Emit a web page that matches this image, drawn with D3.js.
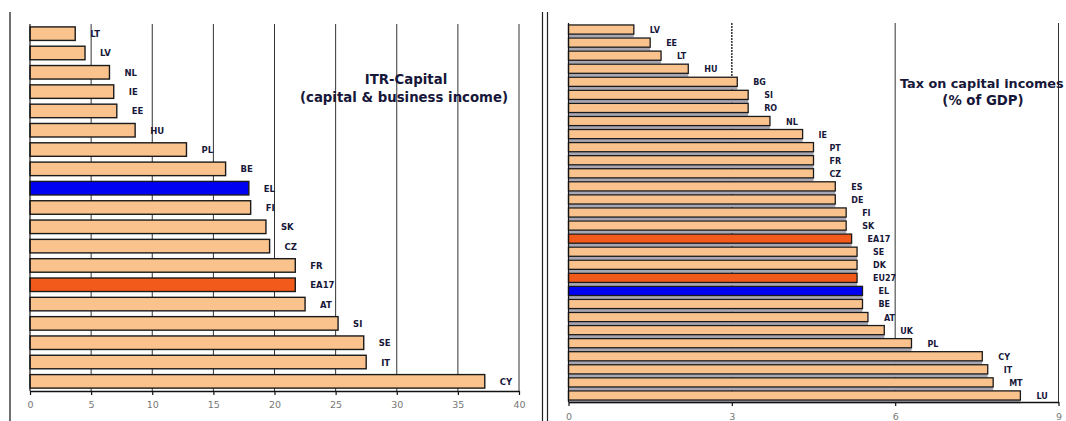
<!DOCTYPE html>
<html>
<head>
<meta charset="utf-8">
<script src="https://cdn.jsdelivr.net/npm/d3@7"></script>
<style>
  html, body { margin: 0; padding: 0; background: #fff; }
  svg { display: block; }
</style>
</head>
<body>
<svg id="chart" width="1066" height="421"></svg>
<script>
// ITR on capital (capital & business income), %
const itrCountries = ["LT","LV","NL","IE","EE","HU","PL","BE","EL","FI","SK","CZ","FR","EA17","AT","SI","SE","IT","CY"];
const itrValues    = [3.7, 4.5, 6.5, 6.85, 7.1, 8.6, 12.8, 16.0, 17.9, 18.05, 19.3, 19.6, 21.7, 21.7, 22.5, 25.2, 27.3, 27.5, 37.2];
const itrTicks     = [0, 5, 10, 15, 20, 25, 30, 35, 40];

// Tax on capital income, % of GDP
const capCountries = ["LV","EE","LT","HU","BG","SI","RO","NL","IE","PT","FR","CZ","ES","DE","FI","SK","EA17","SE","DK","EU27","EL","BE","AT","UK","PL","CY","IT","MT","LU"];
const capValues    = [1.2, 1.5, 1.7, 2.2, 3.1, 3.3, 3.3, 3.7, 4.3, 4.5, 4.5, 4.5, 4.9, 4.9, 5.1, 5.1, 5.2, 5.3, 5.3, 5.3, 5.4, 5.4, 5.5, 5.8, 6.3, 7.6, 7.7, 7.8, 8.3];
const capTicks     = [0, 3, 6, 9];

const aggregates = ["EA17", "EU27"];
const focusCountry = "EL";

const svg = d3.select("#chart");
const FONT = "'DejaVu Sans', Verdana, sans-serif";
const TEXT_DARK = "#17173a";

function fillFor(c) {
  if (c === focusCountry) return "#0000f2";
  if (aggregates.includes(c)) return "#f25a1c";
  return "#fac38e";
}

// panel frame lines
svg.append("line").attr("x1", 10).attr("x2", 10).attr("y1", 12).attr("y2", 421)
  .attr("stroke", "#222").attr("stroke-width", 1.3);
[542.5, 547.5].forEach(x => {
  svg.append("line").attr("x1", x).attr("x2", x).attr("y1", 12).attr("y2", 421)
    .attr("stroke", "#222").attr("stroke-width", 1.2);
});

function drawPanel(opt) {
  const g = svg.append("g");
  const x = d3.scaleLinear().domain(opt.domain).range(opt.xRange);
  const y = d3.scaleBand().domain(opt.categories).range(opt.yRange)
    .paddingInner(opt.padInner).paddingOuter(opt.padOuter);
  const top = opt.yRange[0], bottom = opt.yRange[1];

  // vertical gridlines
  g.selectAll("line.grid").data(opt.ticks.filter(t => t > opt.domain[0]))
    .join("line").attr("class", "grid")
    .attr("x1", d => x(d)).attr("x2", d => x(d))
    .attr("y1", top).attr("y2", bottom)
    .attr("stroke", d => (opt.dotted && opt.dotted.includes(d)) ? "#222" : "#333")
    .attr("stroke-width", d => (opt.dotted && opt.dotted.includes(d)) ? 1.4 : 1)
    .attr("stroke-dasharray", d => (opt.dotted && opt.dotted.includes(d)) ? "2,1" : null);

  // under-bar shading strips
  if (opt.shadow) {
    g.selectAll("rect.shadow").data(opt.categories)
      .join("rect").attr("class", "shadow")
      .attr("x", x(0))
      .attr("y", d => y(d) + y.bandwidth())
      .attr("width", (d, i) => x(opt.values[i]) - x(0))
      .attr("height", y.step() - y.bandwidth() - 0.6)
      .attr("fill", "#a8a6b2");
  }

  // bars
  g.selectAll("rect.bar").data(opt.categories)
    .join("rect").attr("class", "bar")
    .attr("x", x(0))
    .attr("y", d => y(d))
    .attr("width", (d, i) => x(opt.values[i]) - x(0))
    .attr("height", y.bandwidth())
    .attr("fill", d => fillFor(d))
    .attr("stroke", "#1a1a1a")
    .attr("stroke-width", opt.barStroke);

  // category labels at bar ends
  g.selectAll("text.lab").data(opt.categories)
    .join("text").attr("class", "lab")
    .attr("x", (d, i) => x(opt.values[i]) + opt.labelGap)
    .attr("y", d => y(d) + y.bandwidth() / 2 + 3.5)
    .attr("font-family", FONT).attr("font-weight", "bold")
    .attr("font-size", opt.labelSize).attr("fill", TEXT_DARK)
    .text(d => d);

  // vertical axis line
  g.append("line").attr("x1", x(0)).attr("x2", x(0)).attr("y1", top).attr("y2", bottom)
    .attr("stroke", "#111").attr("stroke-width", 1.2);

  // bottom axis
  const axis = d3.axisBottom(x).tickValues(opt.ticks).tickSize(4).tickSizeOuter(0)
    .tickFormat(d3.format("d"));
  const ax = g.append("g").attr("transform", `translate(0,${bottom})`).call(axis);
  ax.select(".domain").attr("stroke", "#111").attr("stroke-width", 1.5);
  ax.selectAll(".tick line").attr("stroke", "#111").attr("stroke-width", 1.2);
  ax.selectAll(".tick text").attr("font-family", FONT).attr("font-size", 9.5)
    .attr("fill", "#777").attr("dy", opt.tickDy);

  // title
  opt.title.forEach(t => {
    g.append("text").attr("x", t.x).attr("y", t.y).attr("text-anchor", t.anchor)
      .attr("font-family", FONT).attr("font-weight", "bold").attr("font-size", t.size)
      .attr("fill", TEXT_DARK).text(t.text);
  });
}

drawPanel({
  categories: itrCountries, values: itrValues, ticks: itrTicks,
  domain: [0, 40], xRange: [30, 519], yRange: [24, 391],
  padInner: 0.3, padOuter: 0.15, barStroke: 1.4,
  labelGap: 15, labelSize: 8.5, tickDy: "1.05em",
  title: [
    { text: "ITR-Capital", x: 406, y: 84, anchor: "middle", size: 13.3 },
    { text: "(capital & business income)", x: 404, y: 102, anchor: "middle", size: 13.3 }
  ]
});

drawPanel({
  categories: capCountries, values: capValues, ticks: capTicks,
  domain: [0, 9], xRange: [568.5, 1058.5], yRange: [23, 402],
  padInner: 0.3, padOuter: 0.15, barStroke: 1.3, shadow: true, dotted: [3],
  labelGap: 16, labelSize: 8, tickDy: "1.2em",
  title: [
    { text: "Tax on capital incomes", x: 900, y: 88, anchor: "start", size: 12.8 },
    { text: "(% of GDP)", x: 983, y: 105, anchor: "middle", size: 13.3 }
  ]
});
</script>
</body>
</html>
